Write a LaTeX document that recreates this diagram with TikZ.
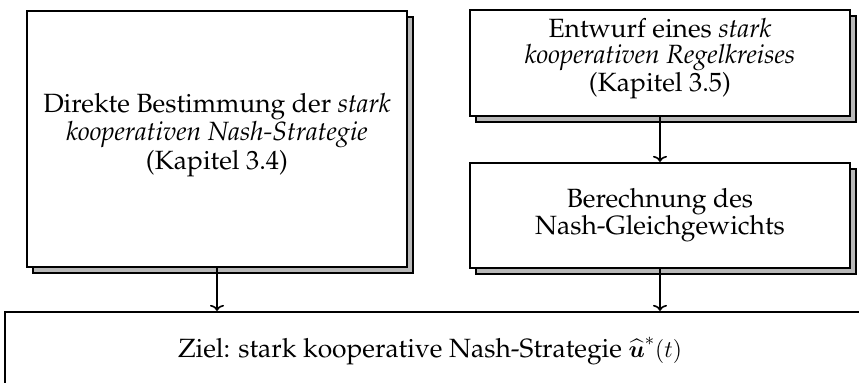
\documentclass[tikz,border=0pt]{standalone}
\usepackage[T1]{fontenc}
\renewcommand{\rmdefault}{ppl}
\usepackage{amsmath,amsbsy}
\usetikzlibrary{shadows,arrows.meta}
\begin{document}
\begin{tikzpicture}[x=0.5pt,y=-0.5pt,
  box/.style={draw=black, line width=1.1pt, fill=white, rectangle, align=center,
    inner sep=0pt, font=\fontsize{13.2}{13.1}\selectfont,
    copy shadow={shadow xshift=3pt, shadow yshift=-3pt, fill=black!28, draw=black, line width=1.1pt}},
  threeline/.style={text depth=8pt},
  plainbox/.style={draw=black, line width=1.1pt, fill=white, rectangle, inner sep=0pt},
  lbl/.style={font=\fontsize{13.2}{13}\selectfont, inner sep=0pt},
  conn/.style={-{To[length=3pt,width=7pt]}, line width=0.8pt}]
\useasboundingbox (0,0) rectangle (859,382);
\begin{scope}
\clip (0,0) rectangle (859,382);
\node[box, threeline, minimum width=190pt, minimum height=128pt] (direct) at (217,139)
  {Direkte Bestimmung der \emph{stark}\\ \emph{kooperativen Nash-Strategie}\\ (Kapitel 3.4)};
\node[box, threeline, minimum width=190pt, minimum height=53pt] (design) at (660,63)
  {Entwurf eines \emph{stark}\\ \emph{kooperativen Regelkreises}\\ (Kapitel 3.5)};
\node[box, font=\fontsize{13.2}{13.5}\selectfont, minimum width=190pt, minimum height=52.5pt] (calc) at (660,215.5)
  {Berechnung des\\ Nash-Gleichgewichts};
\node[plainbox, minimum width=432pt, minimum height=45pt] (goal) at (437,357) {};
\node[lbl, anchor=base] (goaltext) at (430,357) {Ziel: stark kooperative Nash-Strategie $\widehat{\boldsymbol{u}}^{*}(t)$};
\draw[conn] (direct.south) -- (direct.south |- goal.north);
\draw[conn] (design.south) -- (calc.north);
\draw[conn] (calc.south) -- (calc.south |- goal.north);
\end{scope}
\end{tikzpicture}
\end{document}
